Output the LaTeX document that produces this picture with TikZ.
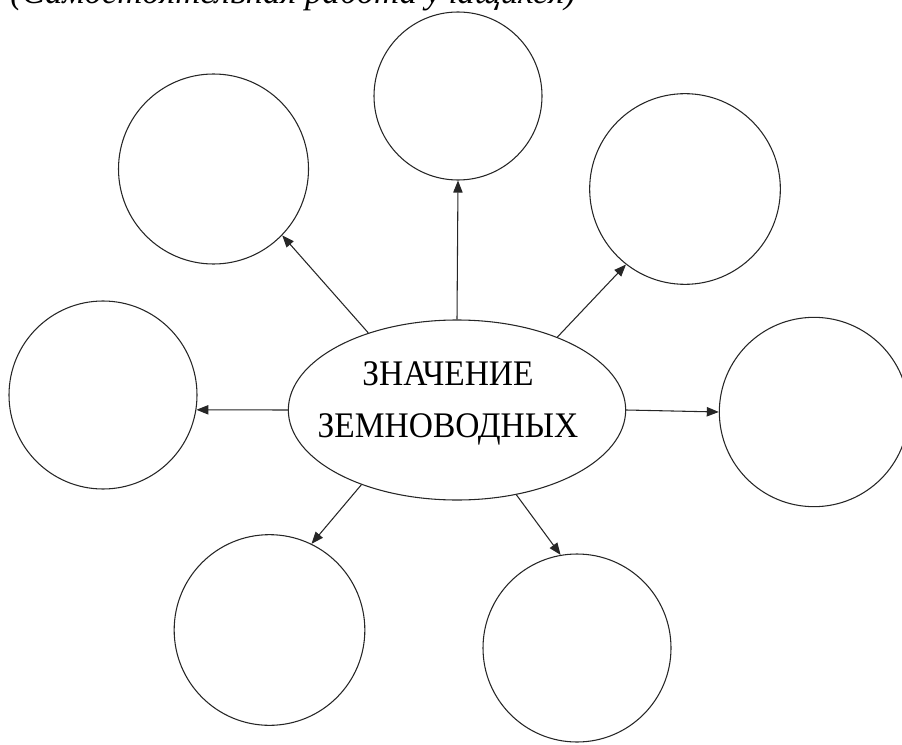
\documentclass[tikz,border=0pt]{standalone}
\usepackage{fontspec}
\setmainfont{Liberation Serif}
\newfontfamily\narrowfont[FakeStretch=0.93]{Liberation Serif}
\usetikzlibrary{positioning,shapes.geometric,arrows.meta}

\begin{document}
\begin{tikzpicture}[x=0.75pt,y=-0.75pt]
		\tikzstyle{every node}+=[inner sep=0pt]
		\tikzstyle{bubble}=[draw=black!85, line width=0.8pt, circle, minimum size=142pt]
		\tikzstyle{arr}=[draw=black!85, line width=0.8pt, -{Triangle[length=9pt,width=7pt]}]
		\useasboundingbox (0,0) rectangle (902,745);
		\node [anchor=base west, font=\itshape\fontsize{26}{30}\selectfont] (title) at (10,4) {(Самостоятельная работа учащихся)};
		% centre
		\node [draw=black!85, line width=0.8pt, ellipse, minimum width=253pt, minimum height=135pt] (zn) at (457,410) {};
		\node [anchor=base, font=\narrowfont\fontsize{27}{30}\selectfont] (zn1) at (448,385) {ЗНАЧЕНИЕ};
		\node [anchor=base, font=\narrowfont\fontsize{27}{30}\selectfont] (zn2) at (448,437) {ЗЕМНОВОДНЫХ};
		% empty circles
		\node [bubble, minimum size=142.5pt] (tl) at (213.5,169) {};
		\node [bubble, minimum size=126pt] (tc) at (458,96) {};
		\node [bubble, minimum size=143pt] (tr) at (685,189) {};
		\node [bubble, minimum size=141pt] (lf) at (103,395) {};
		\node [bubble, minimum size=142pt] (rt) at (814,412) {};
		\node [bubble, minimum size=143pt] (bl) at (269.5,630) {};
		\node [bubble, minimum size=141pt] (br) at (577,648) {};
		% arrows
		\draw [arr] (zn.north) -- (tc.south);
		\draw [arr] (zn.139) -- (tl.316);
		\draw [arr] (zn.36) -- (tr.232);
		\draw [arr] (zn.west) -- (lf.-9);
		\draw [arr] (zn.east) -- (rt.west);
		\draw [arr] (zn.218) -- (bl.64);
		\draw [arr] (zn.305) -- (br.100);
\end{tikzpicture}
\end{document}
